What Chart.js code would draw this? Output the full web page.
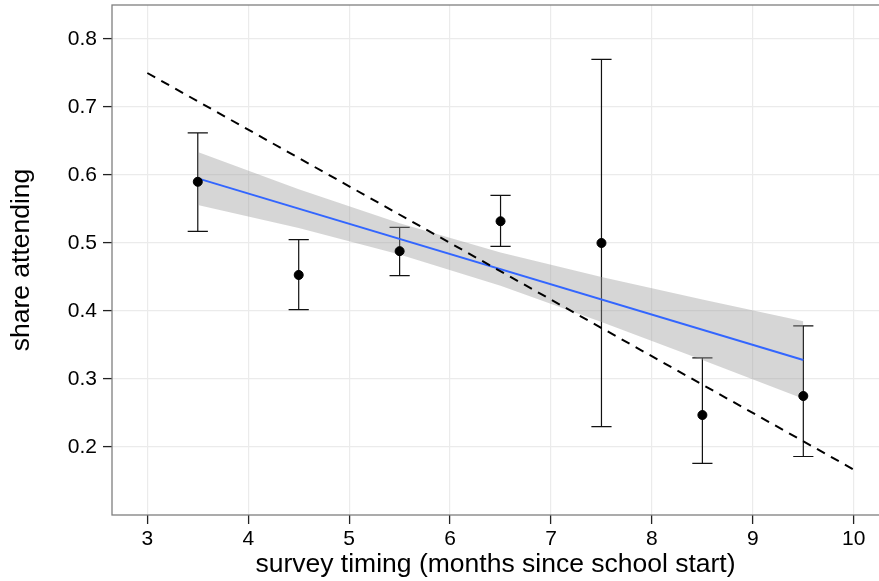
<!DOCTYPE html>
<html>
<head>
<meta charset="utf-8">
<script src="https://cdn.jsdelivr.net/npm/chart.js@4.4.1/dist/chart.umd.min.js"></script>
<style>
  html, body { margin: 0; padding: 0; background: #fff; overflow: hidden; }
  #wrap { width: 879px; height: 581px; }
</style>
</head>
<body>
<div id="wrap"><canvas id="chart" width="879" height="581"></canvas></div>
<script>
// survey groups: timing in months, share attending and its interval
const months = [3.5, 4.5, 5.5, 6.5, 7.5, 8.5, 9.5];
const shareAttending = [0.590, 0.453, 0.488, 0.532, 0.500, 0.247, 0.275];
const upperBar = [0.662, 0.505, 0.523, 0.570, 0.770, 0.331, 0.378];
const lowerBar = [0.517, 0.402, 0.452, 0.495, 0.230, 0.176, 0.186];

// fitted line and its confidence band
const fitX = [3.5, 9.5];
const fitY = [0.595, 0.328];
const bandUpper = [0.634, 0.579, 0.529, 0.486, 0.450, 0.417, 0.385];
const bandLower = [0.556, 0.522, 0.483, 0.437, 0.384, 0.328, 0.271];

// dashed reference line
const refX = [3, 10];
const refY = [0.75, 0.1667];

const xTicks = [3, 4, 5, 6, 7, 8, 9, 10];
const yTicks = [0.2, 0.3, 0.4, 0.5, 0.6, 0.7, 0.8];

const FONT = '"Liberation Sans", Arial, Helvetica, sans-serif';
Chart.defaults.font.family = FONT;
Chart.defaults.color = '#000';

const pts = (xs, ys) => xs.map((v, i) => ({ x: v, y: ys[i] }));

// error bars go under everything else
const errorBars = {
  id: 'errorBars',
  beforeDatasetsDraw(chart) {
    const { ctx, scales: { x, y } } = chart;
    ctx.save();
    ctx.strokeStyle = '#111';
    ctx.lineWidth = 1.2;
    months.forEach((m, i) => {
      const px = x.getPixelForValue(m);
      const half = x.getPixelForValue(m + 0.1) - px;
      const top = y.getPixelForValue(upperBar[i]);
      const bot = y.getPixelForValue(lowerBar[i]);
      ctx.beginPath();
      ctx.moveTo(px, top); ctx.lineTo(px, bot);
      ctx.moveTo(px - half, top); ctx.lineTo(px + half, top);
      ctx.moveTo(px - half, bot); ctx.lineTo(px + half, bot);
      ctx.stroke();
    });
    ctx.restore();
  }
};

// grey panel border (right side falls off the picture)
const panelBorder = {
  id: 'panelBorder',
  afterDraw(chart) {
    const { ctx, chartArea: a } = chart;
    ctx.save();
    ctx.strokeStyle = '#7F7F7F';
    ctx.lineWidth = 1.3;
    ctx.strokeRect(a.left, a.top, a.right - a.left + 5, a.bottom - a.top);
    ctx.restore();
  }
};

const gridOpts = {
  color: '#EBEBEB',
  lineWidth: 1.2,
  drawTicks: true,
  tickLength: 9,
  tickColor: '#222',
  tickWidth: 1.3
};

new Chart(document.getElementById('chart'), {
  type: 'line',
  data: {
    datasets: [
      {
        data: pts(months, bandUpper),
        borderColor: 'rgba(0,0,0,0)',
        backgroundColor: 'rgba(153,153,153,0.4)',
        pointRadius: 0,
        fill: '+1',
        order: 5
      },
      {
        data: pts(months, bandLower),
        borderColor: 'rgba(0,0,0,0)',
        pointRadius: 0,
        fill: false,
        order: 5
      },
      {
        data: pts(fitX, fitY),
        borderColor: '#3366FF',
        borderWidth: 2,
        pointRadius: 0,
        fill: false,
        order: 3
      },
      {
        type: 'scatter',
        data: pts(months, shareAttending),
        backgroundColor: '#000',
        borderColor: '#000',
        pointRadius: 4.5,
        order: 2
      },
      {
        data: pts(refX, refY),
        borderColor: '#000',
        borderWidth: 2,
        borderDash: [9, 7],
        pointRadius: 0,
        fill: false,
        order: 1
      }
    ]
  },
  options: {
    responsive: false,
    animation: false,
    layout: { autoPadding: false, padding: { top: 5, right: 0, bottom: 0, left: 0 } },
    plugins: { legend: { display: false }, tooltip: { enabled: false } },
    scales: {
      x: {
        type: 'linear',
        min: 2.65,
        max: 10.25,
        afterBuildTicks: s => { s.ticks = xTicks.map(v => ({ value: v })); },
        afterFit: s => { s.height = 66; s.paddingLeft = 0; s.paddingRight = 0; },
        grid: gridOpts,
        border: { display: false },
        ticks: {
          font: { size: 21 },
          padding: 3,
          maxRotation: 0,
          autoSkip: false,
          callback: v => String(v)
        },
        title: {
          display: true,
          text: 'survey timing (months since school start)',
          font: { size: 26.5 },
          padding: { top: 0, bottom: 0 }
        }
      },
      y: {
        type: 'linear',
        min: 0.1,
        max: 0.85,
        afterBuildTicks: s => { s.ticks = yTicks.map(v => ({ value: v })); },
        afterFit: s => { s.width = 112; s.paddingTop = 0; s.paddingBottom = 0; },
        grid: gridOpts,
        border: { display: false },
        ticks: {
          font: { size: 21 },
          padding: 6,
          autoSkip: false,
          callback: v => v.toFixed(1)
        },
        title: {
          display: true,
          text: 'share attending',
          font: { size: 26.5 },
          padding: { top: 6, bottom: 0 }
        }
      }
    }
  },
  plugins: [errorBars, panelBorder]
});
</script>
</body>
</html>
